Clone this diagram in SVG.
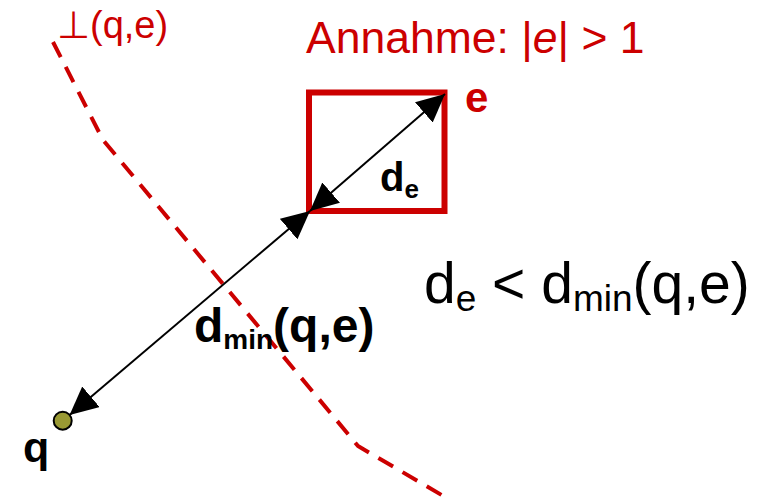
<svg xmlns="http://www.w3.org/2000/svg" width="770" height="500" viewBox="0 0 770 500">
<style>
.red{fill:#cc0000}
.t{font-family:"Liberation Sans",Arial,sans-serif}
.b{font-weight:bold}
.conn{stroke:#000;stroke-width:2;fill:none;marker-start:url(#ah);marker-end:url(#ah)}
</style>
<defs>
<marker id="ah" viewBox="0 0 28 27" markerUnits="userSpaceOnUse" markerWidth="28" markerHeight="27" refX="28" refY="13.5" orient="auto-start-reverse">
<path d="M0,0 L28,13.5 L0,27 Z" fill="#000"/>
</marker>
</defs>
<rect width="770" height="500" fill="#fff"/>
<g id="bisector">
<polyline points="53,42 103,140 358,446 445,497" fill="none" stroke="#cc0000" stroke-width="4" stroke-dasharray="17 11" stroke-linejoin="round"/>
<text class="t red" x="57" y="38" font-size="38">⊥(q,e)</text>
</g>
<g id="node-e">
<rect x="309" y="92.5" width="135.5" height="118.5" fill="none" stroke="#cc0000" stroke-width="6"/>
<text class="t b red" x="465" y="112" font-size="42">e</text>
</g>
<g id="node-q">
<circle cx="62.7" cy="420.7" r="9" fill="#999933" stroke="#000" stroke-width="2"/>
<text class="t b" x="23" y="462" font-size="43">q</text>
</g>
<g id="connectors">
<line class="conn" x1="310" y1="211" x2="445" y2="94"/>
<line class="conn" x1="310" y1="211" x2="69.6" y2="414.9"/>
</g>
<g id="labels">
<text class="t red" x="306" y="53" font-size="44.5">Annahme: |<tspan font-style="italic">e</tspan>| &gt; 1</text>
<text class="t b" x="380" y="191" font-size="40">d<tspan font-size="26" dy="7">e</tspan></text>
<text class="t b" x="194" y="342" font-size="48">d<tspan font-size="28" dy="7">min</tspan><tspan dy="-7">(q,e)</tspan></text>
<text class="t" x="424" y="303" font-size="57">d<tspan font-size="37" dy="8">e</tspan><tspan dy="-8"> &lt; d</tspan><tspan font-size="37" dy="8">min</tspan><tspan dy="-8">(q,e)</tspan></text>
</g>
</svg>
